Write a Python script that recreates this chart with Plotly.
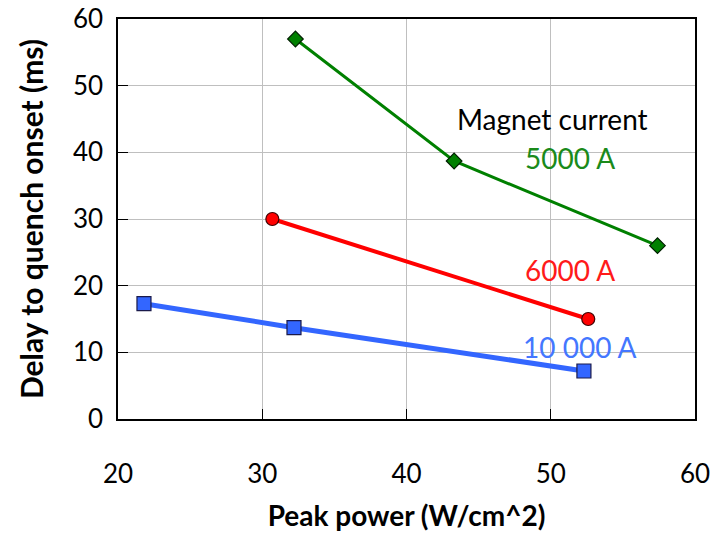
import plotly.graph_objects as go

# Data
x_5000 = [32.3, 43.3, 57.4]
y_5000 = [57.0, 38.7, 26.0]
x_6000 = [30.7, 52.6]
y_6000 = [30.0, 15.0]
x_10000 = [21.8, 32.2, 52.3]
y_10000 = [17.3, 13.7, 7.2]

x_ticks = [20, 30, 40, 50, 60]
y_ticks = [0, 10, 20, 30, 40, 50, 60]

FONT = "Lato"

fig = go.Figure()
fig.add_trace(go.Scatter(x=x_10000, y=y_10000, mode="lines+markers",
                         line=dict(color="#3366ff", width=5),
                         marker=dict(symbol="square", size=14, color="#3366ff",
                                     line=dict(color="#1a1a4a", width=1.2)),
                         showlegend=False, cliponaxis=False))
fig.add_trace(go.Scatter(x=x_6000, y=y_6000, mode="lines+markers",
                         line=dict(color="#ff0000", width=4),
                         marker=dict(symbol="circle", size=13, color="#ff0000",
                                     line=dict(color="#400000", width=1.2)),
                         showlegend=False, cliponaxis=False))
fig.add_trace(go.Scatter(x=x_5000, y=y_5000, mode="lines+markers",
                         line=dict(color="#008000", width=3),
                         marker=dict(symbol="diamond", size=12, color="#008000",
                                     line=dict(color="#002000", width=1.2)),
                         showlegend=False, cliponaxis=False))

annots = [
    ("Magnet current", 552, 119, "#000000"),
    ("5000 A", 570, 158, "#1a8a1a"),
    ("6000 A", 570, 270, "#ff1a1a"),
    ("10 000 A", 580, 347, "#4477ff"),
]
for txt, px, py, col in annots:
    fig.add_annotation(text=txt, xref="paper", yref="paper",
                       x=(px - 118) / (695 - 118), y=(419 - py) / (419 - 19),
                       xanchor="center", yanchor="middle", showarrow=False,
                       font=dict(family=FONT, size=28, color=col))

axis_common = dict(showgrid=True, gridcolor="#bfbfbf", gridwidth=1,
                   showline=True, linecolor="#000000", linewidth=1.5, mirror=True,
                   ticks="inside", ticklen=10, tickcolor="#000000", tickwidth=1,
                   zeroline=False, automargin=False,
                   tickfont=dict(family=FONT, size=26, color="#000000"))

fig.update_xaxes(range=[20, 60], tickvals=x_ticks, ticklabelstandoff=31,
                 title=dict(text="<b>Peak power (W/cm^2)</b>", standoff=18,
                            font=dict(family=FONT, size=28, color="#000000")),
                 **axis_common)
fig.update_yaxes(range=[0, 60], tickvals=y_ticks, ticklabelstandoff=8,
                 title=dict(text="<b>Delay to quench onset (ms)</b>", standoff=20,
                            font=dict(family=FONT, size=30, color="#000000")),
                 **axis_common)

fig.update_layout(width=712, height=534,
                  margin=dict(l=118, r=17, t=19, b=115),
                  plot_bgcolor="white", paper_bgcolor="white")

fig.write_html("out.html", config={"displayModeBar": False},
               post_script="document.body.style.margin='0';document.body.style.overflow='hidden';")
